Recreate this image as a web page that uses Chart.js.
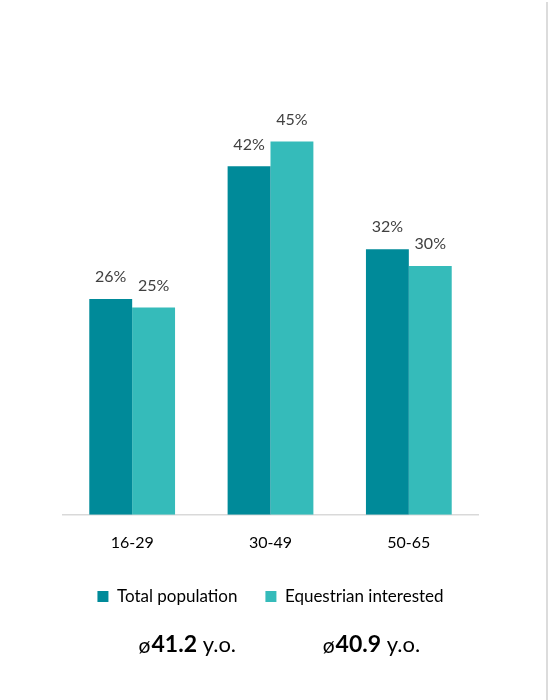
<!DOCTYPE html>
<html>
<head>
<meta charset="utf-8">
<script src="https://cdn.jsdelivr.net/npm/chart.js@4"></script>
<style>
  html, body { margin: 0; padding: 0; background: #fff; }
  #wrap { position: relative; width: 551px; height: 700px; }
  #edge { position: absolute; left: 546px; top: 2px; width: 2px; height: 698px; background: #dcdcdc; }
</style>
</head>
<body>
<div id="wrap">
  <canvas id="age-chart" width="551" height="700"></canvas>
  <div id="edge"></div>
</div>
<script>
// age groups and share of each group (%)
const ageGroups = ["16-29", "30-49", "50-65"];
const totalPopulation = [26, 42, 32];
const equestrianInterested = [25, 45, 30];
const seriesNames = ["Total population", "Equestrian interested"];
// average age per series
const averageAges = [41.2, 40.9];

const FONT = "Lato, 'Liberation Sans', sans-serif";

// writes the % value above each bar
const barLabels = {
    id: 'barLabels',
    afterDatasetsDraw(chart) {
        const ctx = chart.ctx;
        ctx.save();
        ctx.font = "16px " + FONT;
        ctx.fillStyle = "#404040";
        ctx.textAlign = "center";
        ctx.textBaseline = "middle";
        chart.data.datasets.forEach((ds, i) => {
            chart.getDatasetMeta(i).data.forEach((bar, j) => {
                ctx.fillText(ds.data[j] + "%", bar.x, bar.y - 22);
            });
        });
        ctx.restore();
    }
};

// average age line under the legend
const averageText = {
    id: 'averageText',
    afterDraw(chart) {
        const ctx = chart.ctx;
        const xs = [chart.width * 0.34, chart.width * 0.674];
        const y = 645;
        ctx.save();
        ctx.textBaseline = "middle";
        ctx.fillStyle = "#000";
        averageAges.forEach((age, i) => {
            const sym = "ø";
            const num = age.toFixed(1);
            const unit = " y.o.";
            ctx.font = "21px " + FONT;
            const wSym = ctx.measureText(sym).width + 1;
            ctx.font = "bold 23px " + FONT;
            const wNum = ctx.measureText(num).width;
            ctx.font = "22px " + FONT;
            const wUnit = ctx.measureText(unit).width;
            let x = xs[i] - (wSym + wNum + wUnit) / 2;
            ctx.textAlign = "left";
            ctx.font = "21px " + FONT;
            ctx.fillText(sym, x, y + 1);
            x += wSym;
            ctx.font = "bold 23px " + FONT;
            ctx.fillText(num, x, y);
            x += wNum;
            ctx.font = "22px " + FONT;
            ctx.fillText(unit, x, y);
        });
        ctx.restore();
    }
};

new Chart(document.querySelector('#age-chart').getContext('2d'), {
    type: 'bar',
    data: {
        labels: ageGroups,
        datasets: [
            {
                label: seriesNames[0],
                data: totalPopulation,
                backgroundColor: "#008a99"
            },
            {
                label: seriesNames[1],
                data: equestrianInterested,
                backgroundColor: "#35bbba"
            }
        ]
    },
    options: {
        responsive: false,
        animation: false,
        layout: { padding: { top: 100, left: 63, right: 73, bottom: 85 } },
        datasets: { bar: { categoryPercentage: 0.62, barPercentage: 1.0 } },
        scales: {
            x: {
                grid: { display: false },
                border: { color: "#d9d9d9", width: 1.5 },
                ticks: { color: "#000", font: { family: FONT, size: 16 }, padding: 10 },
                afterFit(scale) { scale.height -= 2; }
            },
            y: {
                display: false,
                min: 0,
                max: 50
            }
        },
        plugins: {
            tooltip: { enabled: false },
            legend: {
                position: 'bottom',
                labels: {
                    color: "#000",
                    font: { family: FONT, size: 17 },
                    boxWidth: 11,
                    boxHeight: 11,
                    padding: 28
                }
            }
        }
    },
    plugins: [barLabels, averageText]
});
</script>
</body>
</html>
